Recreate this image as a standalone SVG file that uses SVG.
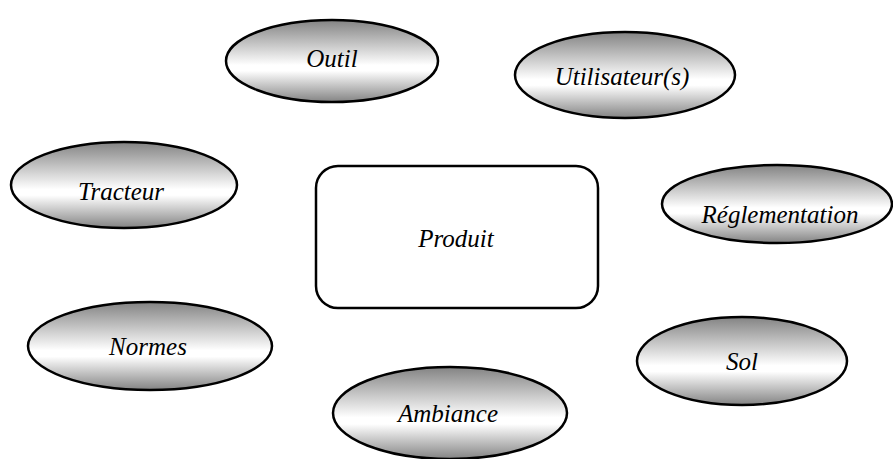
<svg xmlns="http://www.w3.org/2000/svg" width="893" height="459" viewBox="0 0 893 459">
<defs>
<linearGradient id="g" x1="0" y1="0" x2="0" y2="1">
<stop offset="0" stop-color="#838383"/>
<stop offset="0.55" stop-color="#ffffff"/>
<stop offset="0.62" stop-color="#ffffff"/>
<stop offset="1" stop-color="#838383"/>
</linearGradient>
</defs>
<style>
.e{fill:url(#g);stroke:#000;stroke-width:2.5}
.b{fill:#fff;stroke:#000;stroke-width:2.5}
text{font-family:"Liberation Serif","Times New Roman",serif;font-style:italic;font-size:25px;fill:#000;text-anchor:middle}
</style>
<rect width="893" height="459" fill="#fff"/>
<g id="connectors"></g>
<g id="outil"><ellipse class="e" cx="332" cy="61" rx="106" ry="41"/><text x="332" y="67">Outil</text></g>
<g id="utilisateurs"><ellipse class="e" cx="625" cy="75" rx="110" ry="43"/><text x="622" y="85">Utilisateur(s)</text></g>
<g id="tracteur"><ellipse class="e" cx="124" cy="185" rx="113" ry="43"/><text x="121" y="200">Tracteur</text></g>
<g id="produit"><rect class="b" x="316" y="166" width="282" height="142" rx="22" ry="22"/><text x="456" y="247">Produit</text></g>
<g id="reglementation"><ellipse class="e" cx="777" cy="204" rx="115" ry="39"/><text x="780" y="223">Réglementation</text></g>
<g id="normes"><ellipse class="e" cx="150" cy="346" rx="122" ry="44"/><text x="148" y="355">Normes</text></g>
<g id="sol"><ellipse class="e" cx="742" cy="361" rx="105" ry="44"/><text x="742" y="370">Sol</text></g>
<g id="ambiance"><ellipse class="e" cx="450" cy="413" rx="117" ry="46"/><text x="448" y="422">Ambiance</text></g>
</svg>
